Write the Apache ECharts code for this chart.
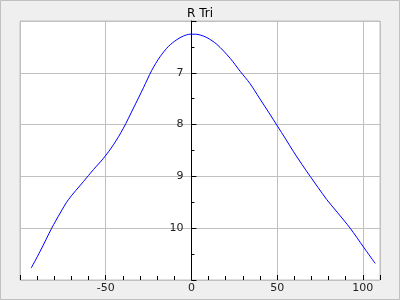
<!DOCTYPE html>
<html>
<head>
<meta charset="utf-8">
<script src="https://cdn.jsdelivr.net/npm/echarts@6/dist/echarts.min.js"></script>
<style>
html,body{margin:0;padding:0;background:#efefef;}
#c{width:400px;height:300px;}
</style>
</head>
<body>
<div id="c"></div>
<script>
const titleText = "R Tri";
const phase = [-93.5, -88.3, -81.5, -76.6, -71.8, -63, -57.2, -51.3, -45.5, -39.7, -33.8, -28, -23.1, -18.3, -13.4, -8.5, -4.7, -0.8, 2.5, 5.1, 9, 14.8, 22.6, 28.4, 34.2, 39.7, 45, 50.2, 55, 59.5, 64.5, 69.3, 74, 79, 85, 92.6, 100.3, 107.2];
const mag   = [10.77, 10.45, 10.00, 9.71, 9.45, 9.10, 8.87, 8.65, 8.39, 8.07, 7.68, 7.29, 6.95, 6.69, 6.49, 6.36, 6.29, 6.255, 6.255, 6.27, 6.32, 6.45, 6.72, 6.97, 7.21, 7.49, 7.76, 8.03, 8.28, 8.52, 8.77, 9.00, 9.22, 9.45, 9.69, 10.00, 10.36, 10.68];
const xRange = [-100, 110];
const yRange = [6, 11];

const chart = echarts.init(document.getElementById('c'), null, {renderer: 'canvas'});
const font = 'DejaVu Sans';
const gridLeft = 20, gridRight = 20;
const plotW = 400 - gridLeft - gridRight;
const zeroOffset = -plotW * (0 - xRange[0]) / (xRange[1] - xRange[0]);
chart.setOption({
  backgroundColor: '#efefef',
  animation: false,
  textStyle: {fontFamily: font},
  title: {
    text: titleText, left: 'center', top: 3,
    textStyle: {fontFamily: font, fontSize: 12, fontWeight: 'normal', color: '#000'}
  },
  graphic: [{
    type: 'rect', silent: true, z: 100,
    shape: {x: 0.5, y: 0.5, width: 399, height: 299},
    style: {fill: 'none', stroke: '#c0c0c0', lineWidth: 1}
  }],
  grid: {
    left: gridLeft, right: gridRight, top: 21, bottom: 20,
    outerBoundsMode: 'none', containLabel: false,
    show: true, backgroundColor: '#ffffff', borderColor: '#c0c0c0', borderWidth: 1
  },
  xAxis: {
    type: 'value', min: xRange[0], max: xRange[1], interval: 50,
    axisLine: {show: false, onZero: false},
    axisTick: {show: true, inside: true, length: 5, lineStyle: {color: '#000'}},
    minorTick: {show: true, splitNumber: 5, length: 4, lineStyle: {color: '#000'}},
    splitLine: {show: true, lineStyle: {color: '#c0c0c0', width: 1}},
    axisLabel: {
      fontFamily: font, fontSize: 11, color: '#222', margin: 3,
      showMinLabel: false, showMaxLabel: false
    }
  },
  yAxis: {
    type: 'value', inverse: true, min: yRange[0], max: yRange[1], interval: 1,
    position: 'left', offset: zeroOffset,
    axisLine: {show: true, onZero: false, lineStyle: {color: '#000', width: 1}},
    axisTick: {show: true, inside: true, length: 5, lineStyle: {color: '#000'}},
    minorTick: {show: true, splitNumber: 2, length: 3, lineStyle: {color: '#000'}},
    splitLine: {show: true, lineStyle: {color: '#c0c0c0', width: 1}},
    axisLabel: {
      fontFamily: font, fontSize: 11, color: '#222', margin: 8,
      showMinLabel: false, showMaxLabel: false
    }
  },
  series: [{
    type: 'line',
    data: phase.map((p, i) => [p, mag[i]]),
    showSymbol: false,
    smooth: 0.3,
    lineStyle: {color: '#0000ff', width: 1},
    z: 3
  }]
});
</script>
</body>
</html>
